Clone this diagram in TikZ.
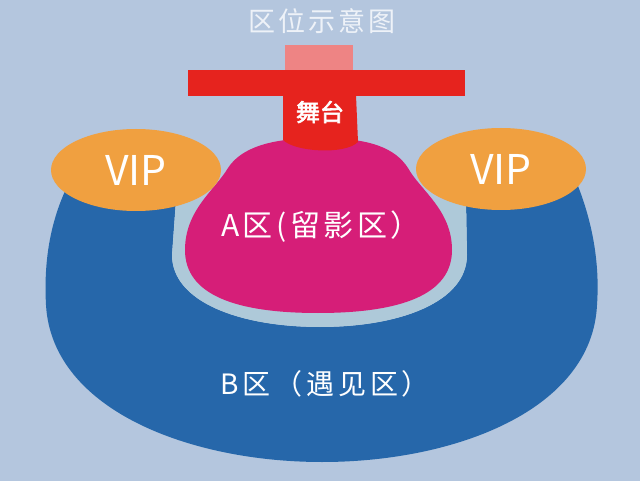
\documentclass[tikz,border=0pt]{standalone}
\usepackage{fontspec}
\newfontfamily\cjk{Noto Sans CJK SC}
\newfontfamily\cjkls[LetterSpace=12]{Noto Sans CJK SC}
\newfontfamily\cjkb[FakeBold=2.5]{Noto Sans CJK SC}
\usetikzlibrary{shapes.geometric}
\definecolor{bgc}{HTML}{B4C6DE}
\definecolor{haloc}{HTML}{AEC9D9}
\definecolor{blueB}{HTML}{2667AA}
\definecolor{pinkA}{HTML}{D61E78}
\definecolor{stagered}{HTML}{E6231E}
\definecolor{lightpink}{HTML}{EE8484}
\definecolor{vipc}{HTML}{F0A040}
\definecolor{titlec}{HTML}{EEF2F8}
\tikzset{
  lbl/.style={inner sep=0pt, text=white},
  vipzone/.style={ellipse, fill=vipc, inner sep=0pt, minimum width=170pt, minimum height=82pt, text=white}
}
\begin{document}
\begin{tikzpicture}[x=1pt,y=-1pt]
\fill[bgc] (0,0) rectangle (640,481);
\useasboundingbox (0,0) rectangle (640,481);

% title
\node[lbl, text=titlec] (title) at (322,21) {\cjkls\fontsize{27pt}{30pt}\selectfont 区位示意图};

% B zone (horseshoe)
\fill[blueB] (176,200) -- (66,189)
  .. controls (48,228) and (44,268) .. (46,305)
  .. controls (52,410) and (190,462) .. (322,462)
  .. controls (455,462) and (592,410) .. (597,305)
  .. controls (600,262) and (592,222) .. (578,186)
  -- (466,200) -- (467,255)
  .. controls (467,302) and (400,327) .. (320,327)
  .. controls (240,327) and (172,302) .. (172,255) -- cycle;

% halo between A and B
\fill[haloc] (176,200) -- (466,200) -- (467,255)
  .. controls (467,302) and (400,327) .. (320,327)
  .. controls (240,327) and (172,302) .. (172,255) -- cycle;

% A zone
\path[fill=pinkA] (320,138)
  .. controls (370,138) and (395,148) .. (408,168)
  .. controls (420,190) and (452,210) .. (452,250)
  .. controls (452,295) and (400,313) .. (318,313)
  .. controls (236,313) and (185,295) .. (185,250)
  .. controls (185,210) and (215,190) .. (228,168)
  .. controls (241,148) and (270,138) .. (320,138) -- cycle;

% stage stem
\fill[stagered] (283,95) -- (283,140)
  .. controls (295,152) and (345,155) .. (358,142) -- (356,95) -- cycle;
% stage bar
\fill[stagered] (188,70) rectangle (465,96);
% back square
\fill[lightpink] (285,45) rectangle (353,70);

% VIP zones
\node[vipzone] (vipL) at (136,170) {\cjk\fontsize{41pt}{44pt}\selectfont VIP};
\node[vipzone] (vipR) at (501,169) {\cjk\fontsize{41pt}{44pt}\selectfont VIP};

% labels
\node[lbl] (stage) at (320,112) {\cjkb\fontsize{24pt}{26pt}\selectfont 舞台};
\node[lbl] (zoneA) at (321,227) {\cjkls\fontsize{30pt}{32pt}\selectfont A区(留影区）};
\node[lbl] (zoneB) at (325,384) {\cjk\addfontfeature{LetterSpace=14}\fontsize{28pt}{30pt}\selectfont B区（遇见区）};
\end{tikzpicture}
\end{document}
